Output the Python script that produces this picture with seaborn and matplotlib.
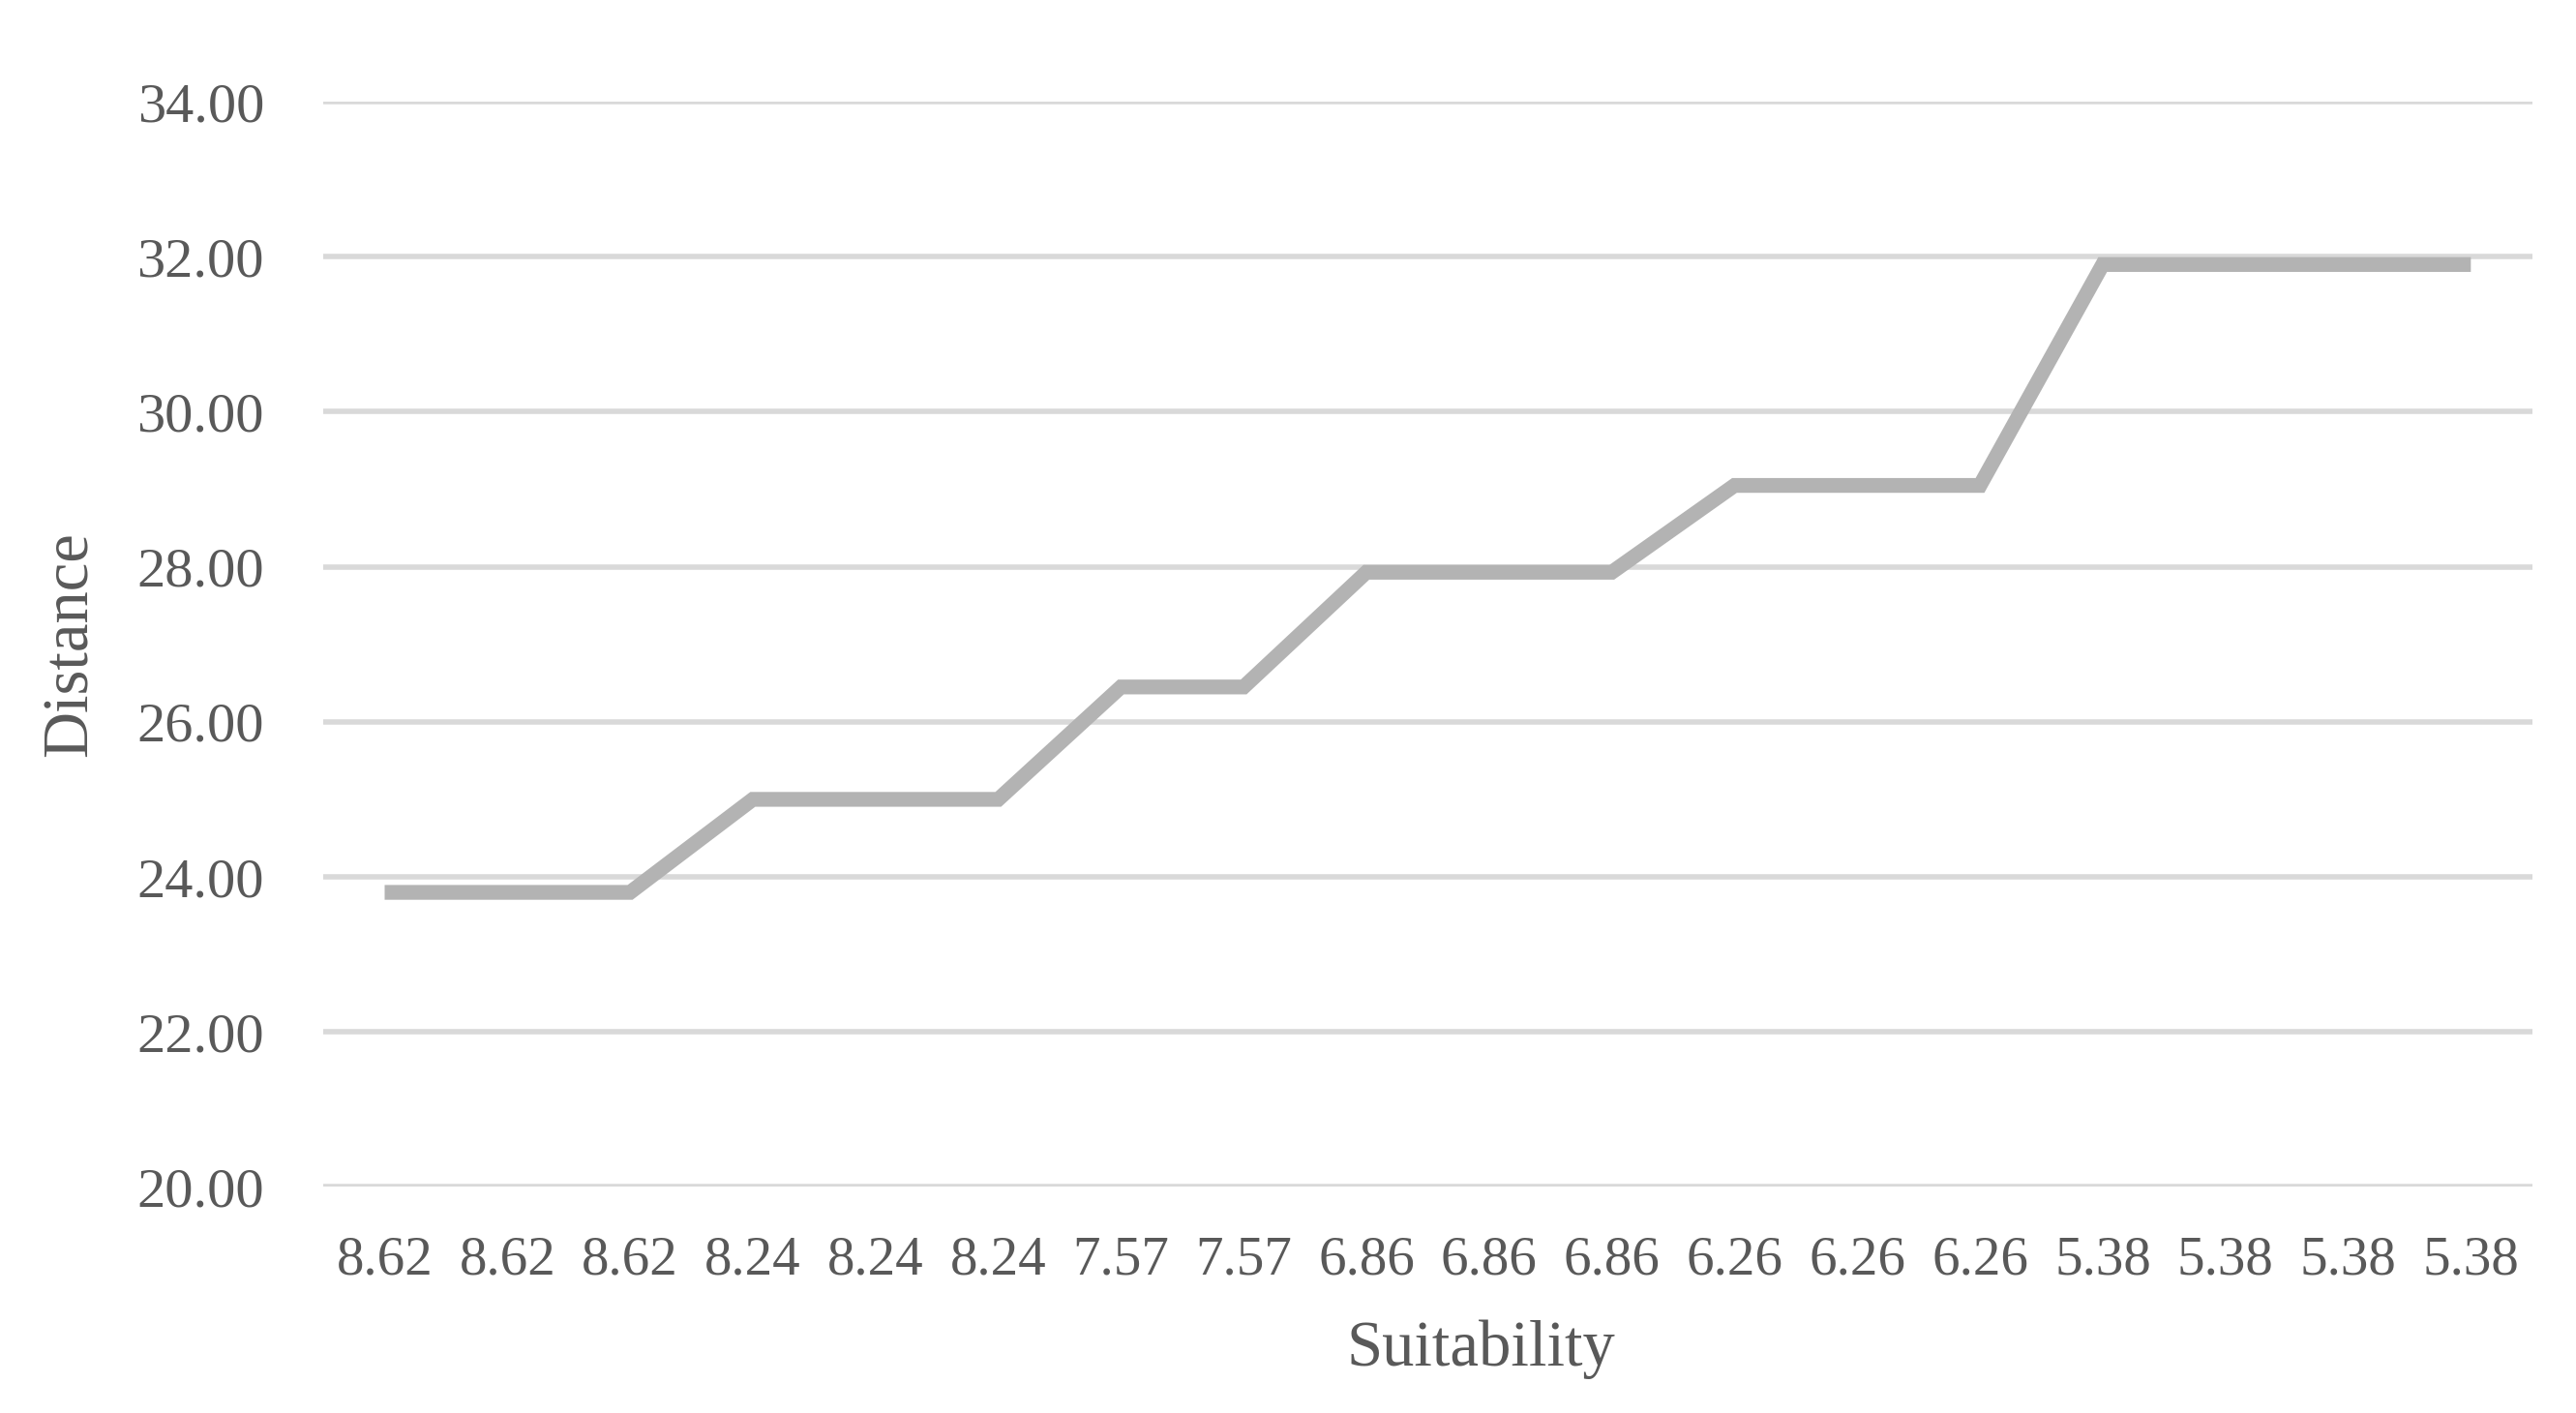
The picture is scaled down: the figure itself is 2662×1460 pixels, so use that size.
import numpy as np
import pandas as pd
import matplotlib
matplotlib.use("Agg")
import matplotlib.pyplot as plt
import seaborn as sns

# values
suitability = ["8.62", "8.62", "8.62", "8.24", "8.24", "8.24", "7.57", "7.57", "6.86",
               "6.86", "6.86", "6.26", "6.26", "6.26", "5.38", "5.38", "5.38", "5.38"]
distance = [23.80, 23.80, 23.80, 25.00, 25.00, 25.00, 26.45, 26.45, 27.93,
            27.93, 27.93, 29.05, 29.05, 29.05, 31.90, 31.90, 31.90, 31.90]
y_ticks = [20, 22, 24, 26, 28, 30, 32, 34]

df = pd.DataFrame({"pos": np.arange(len(suitability)), "Distance": distance})

sns.set_theme(style="white")
plt.rcParams["font.family"] = ["Liberation Serif", "DejaVu Serif"]

fig = plt.figure(figsize=(26.62, 14.60), dpi=100)
ax = fig.add_axes([0.1255, 0.160, 0.8575, 0.768])

sns.lineplot(data=df, x="pos", y="Distance", ax=ax, color="#b3b3b3", linewidth=11,
             solid_joinstyle="miter", solid_capstyle="butt", zorder=3)

ax.set_xlim(-0.5, len(suitability) - 0.5)
ax.set_ylim(20, 34)
ax.set_yticks(y_ticks)
ax.set_yticklabels([f"{v:.2f}" for v in y_ticks])
ax.set_xticks(df["pos"])
ax.set_xticklabels(suitability)
ax.grid(axis="y", color="#d9d9d9", linewidth=4)
ax.grid(axis="x", visible=False)
ax.set_axisbelow(True)
for s in ax.spines.values():
    s.set_visible(False)

ax.tick_params(axis="y", length=0, pad=44, labelsize=42, labelcolor="#595959")
ax.tick_params(axis="x", length=0, pad=36, labelsize=41, labelcolor="#595959")

ax.set_xlabel("Suitability", fontsize=48, color="#595959", va="center")
ax.set_ylabel("Distance", fontsize=48, color="#595959", va="center")
ax.xaxis.set_label_coords(0.524, -0.150)
ax.yaxis.set_label_coords(-0.1145, 0.50)

fig.savefig("out.png", dpi=100, facecolor="white")
